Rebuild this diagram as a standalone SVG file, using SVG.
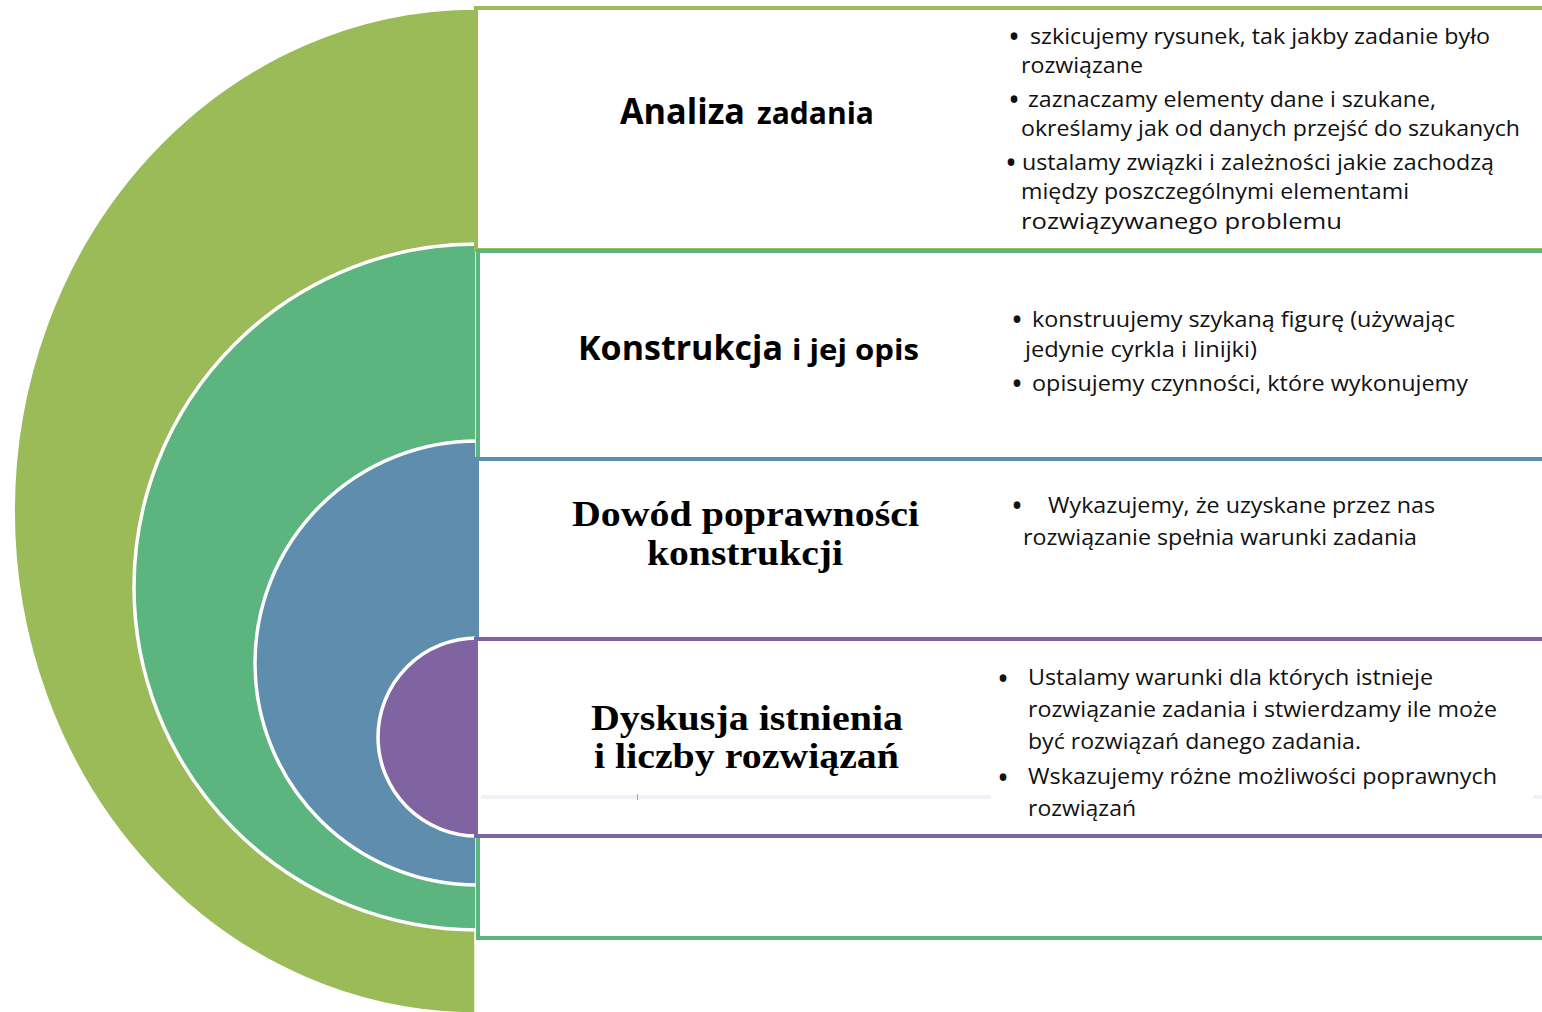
<svg xmlns="http://www.w3.org/2000/svg" width="1542" height="1012" viewBox="0 0 1542 1012">
<style>
.arc{stroke:#ffffff;stroke-width:3.5}
.box{fill:#ffffff;stroke-width:4}
.t{font-family:"Open Sans","Liberation Sans",sans-serif;font-weight:bold;fill:#000}
.s{font-family:"Liberation Serif","DejaVu Serif",serif;font-weight:bold;fill:#000;font-size:36px}
.b{font-family:"Open Sans","Liberation Sans",sans-serif;font-size:21px;fill:#111}
.d{font-family:"Open Sans","Liberation Sans",sans-serif;font-size:32px;fill:#111}
</style>
<rect width="1542" height="1012" fill="#ffffff"/>
<g id="arcs">
<path id="arc1" class="arc" fill="#9BBB59" d="M476,8 A463,503 0 0 0 476,1014 Z"/>
<path id="arc2" class="arc" fill="#5CB47F" d="M477,244 A343,343 0 0 0 477,930 Z"/>
<path id="arc3" class="arc" fill="#5F8DAD" d="M477,441 A222,222 0 0 0 477,885 Z"/>
<path id="arc4" class="arc" fill="#8064A2" d="M477,638 A99,99 0 0 0 477,836 Z"/>
</g>
<g id="connectors"></g>
<g id="node1">
<rect class="box" x="476" y="8" width="1080" height="242" stroke="#9BBB59" stroke-width="3"/>
<text class="t" y="124"><tspan x="620" font-size="35" textLength="125" lengthAdjust="spacingAndGlyphs">Analiza</tspan><tspan x="757" font-size="30" textLength="117" lengthAdjust="spacingAndGlyphs">zadania</tspan></text>
<text class="d" x="1008" y="48">•</text>
<text class="b" x="1030" y="44" textLength="460" lengthAdjust="spacingAndGlyphs">szkicujemy rysunek, tak jakby zadanie było</text>
<text class="b" x="1021" y="73" textLength="122" lengthAdjust="spacingAndGlyphs">rozwiązane</text>
<text class="d" x="1008" y="111">•</text>
<text class="b" x="1028" y="107" textLength="408" lengthAdjust="spacingAndGlyphs">zaznaczamy elementy dane i szukane,</text>
<text class="b" x="1021" y="136" textLength="499" lengthAdjust="spacingAndGlyphs">określamy jak od danych przejść do szukanych</text>
<text class="d" x="1005" y="174">•</text>
<text class="b" x="1022" y="170" textLength="472" lengthAdjust="spacingAndGlyphs">ustalamy związki i zależności jakie zachodzą</text>
<text class="b" x="1021" y="199" textLength="388" lengthAdjust="spacingAndGlyphs">między poszczególnymi elementami</text>
<text class="b" x="1021" y="229" font-size="23" textLength="321" lengthAdjust="spacingAndGlyphs">rozwiązywanego problemu</text>
</g>
<g id="node2">
<rect class="box" x="478" y="251" width="1080" height="687" stroke="#5CB47F"/>
<text class="t" y="360"><tspan x="578" font-size="34" textLength="205" lengthAdjust="spacingAndGlyphs">Konstrukcja</tspan><tspan x="792" font-size="29" textLength="127" lengthAdjust="spacingAndGlyphs">i jej opis</tspan></text>
<text class="d" x="1011" y="331">•</text>
<text class="b" x="1032" y="327" textLength="423" lengthAdjust="spacingAndGlyphs">konstruujemy szykaną figurę (używając</text>
<text class="b" x="1025" y="357" textLength="232" lengthAdjust="spacingAndGlyphs">jedynie cyrkla i linijki)</text>
<text class="d" x="1011" y="395">•</text>
<text class="b" x="1032" y="391" textLength="436" lengthAdjust="spacingAndGlyphs">opisujemy czynności, które wykonujemy</text>
</g>
<g id="node3">
<rect class="box" x="477" y="459" width="1080" height="377" stroke="#5F8DAD"/>
<text class="s" x="572" y="526" textLength="347" lengthAdjust="spacingAndGlyphs">Dowód poprawności</text>
<text class="s" x="647" y="565" textLength="196" lengthAdjust="spacingAndGlyphs">konstrukcji</text>
<text class="d" x="1011" y="517">•</text>
<text class="b" x="1048" y="513" textLength="387" lengthAdjust="spacingAndGlyphs">Wykazujemy, że uzyskane przez nas</text>
<text class="b" x="1023" y="545" textLength="394" lengthAdjust="spacingAndGlyphs">rozwiązanie spełnia warunki zadania</text>
</g>
<g id="node4">
<rect class="box" x="476" y="639" width="1080" height="197" stroke="#8064A2"/>
<rect x="481" y="795" width="510" height="4" fill="#EEF2F6"/>
<rect x="1533" y="795" width="9" height="4" fill="#EEF2F6"/>
<rect x="637" y="794" width="1" height="6" fill="#8DA7BF"/>
<text class="s" x="591" y="730" textLength="312" lengthAdjust="spacingAndGlyphs">Dyskusja istnienia</text>
<text class="s" x="594" y="768" textLength="305" lengthAdjust="spacingAndGlyphs">i liczby rozwiązań</text>
<text class="d" x="997" y="690">•</text>
<text class="b" x="1028" y="685" textLength="405" lengthAdjust="spacingAndGlyphs">Ustalamy warunki dla których istnieje</text>
<text class="b" x="1028" y="717" textLength="469" lengthAdjust="spacingAndGlyphs">rozwiązanie zadania i stwierdzamy ile może</text>
<text class="b" x="1028" y="749" textLength="333" lengthAdjust="spacingAndGlyphs">być rozwiązań danego zadania.</text>
<text class="d" x="997" y="789">•</text>
<text class="b" x="1028" y="784" textLength="469" lengthAdjust="spacingAndGlyphs">Wskazujemy różne możliwości poprawnych</text>
<text class="b" x="1028" y="816" textLength="108" lengthAdjust="spacingAndGlyphs">rozwiązań</text>
</g>
</svg>
